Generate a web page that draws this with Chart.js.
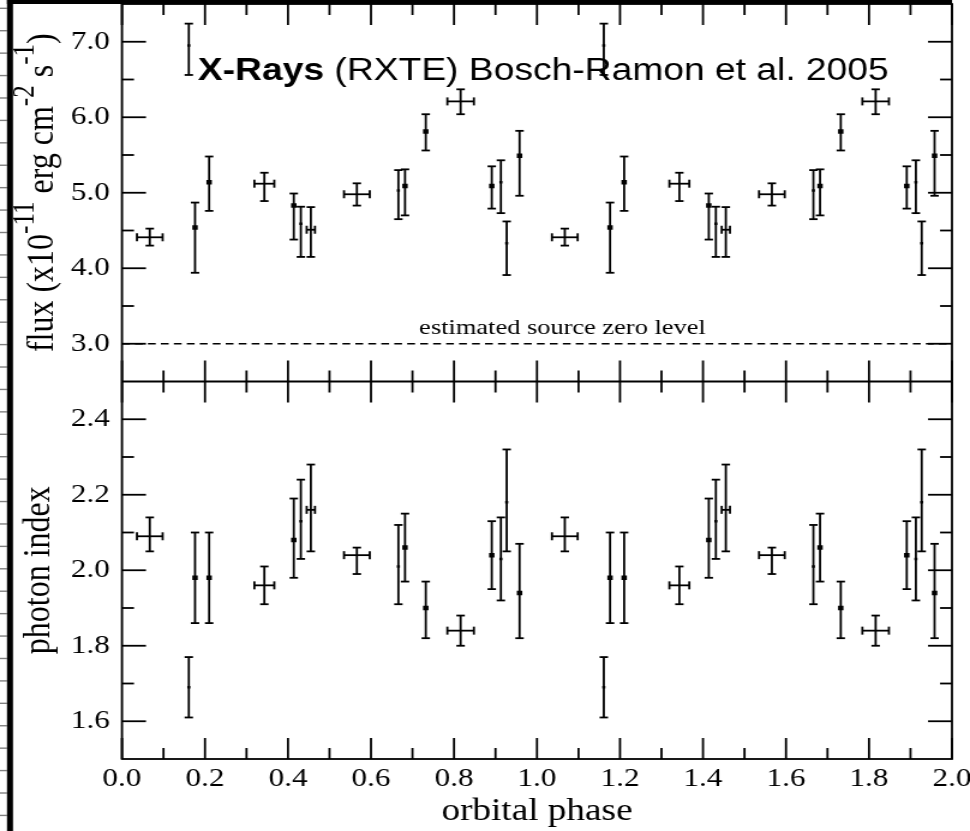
<!DOCTYPE html>
<html>
<head>
<meta charset="utf-8">
<title>RXTE orbital phase</title>
<script src="https://cdn.jsdelivr.net/npm/chart.js@4"></script>
<style>
  html, body { margin: 0; padding: 0; background: #fff; }
  #phaseChart { display: block; }
</style>
</head>
<body>
<!-- the plot is drawn narrow and widened by CSS, like the printed figure -->
<canvas id="phaseChart" width="808" height="831" style="width:970px;height:831px"></canvas>
<script>
const SERIF = "'Liberation Serif', 'Times New Roman', serif";
const SANS = "'Liberation Sans', Arial, sans-serif";

// phase-binned averages (horizontal bar = half bin width)
const binPhase      = [0.067, 0.343, 0.455, 0.566, 0.816];
const binHalfWidth  = [0.031, 0.024, 0.010, 0.031, 0.032];
const binFlux       = [4.41, 5.12, 4.51, 4.98, 6.21];
const binFluxErr    = [[4.30, 4.525], [4.89, 5.265], [4.15, 4.81], [4.83, 5.125], [6.04, 6.37]];
const binIndex      = [2.09, 1.96, 2.16, 2.04, 1.84];
const binIndexErr   = [[2.05, 2.14], [1.91, 2.01], [2.05, 2.28], [1.99, 2.06], [1.80, 1.88]];

// pointed observations (filled squares)
const obsPhase      = [0.176, 0.210, 0.414, 0.682, 0.732, 0.891, 0.958];
const obsFlux       = [4.54, 5.14, 4.83, 5.09, 5.81, 5.09, 5.49];
const obsFluxErr    = [[3.94, 4.87], [4.76, 5.48], [4.38, 4.99], [4.70, 5.31], [5.56, 6.04], [4.79, 5.35], [4.96, 5.82]];
const obsIndex      = [1.98, 1.98, 2.08, 2.06, 1.90, 2.04, 1.94];
const obsIndexErr   = [[1.86, 2.10], [1.86, 2.10], [1.98, 2.19], [1.97, 2.15], [1.82, 1.97], [1.95, 2.13], [1.82, 2.07]];

// short pointings (small dots)
const shortPhase    = [0.161, 0.431, 0.666, 0.913, 0.927];
const shortFlux     = [6.95, 4.59, 5.03, 5.14, 4.33];
const shortFluxErr  = [[6.56, 7.24], [4.15, 4.815], [4.65, 5.30], [4.73, 5.43], [3.91, 4.62]];
const shortIndex    = [1.69, 2.13, 2.01, 2.03, 2.18];
const shortIndexErr = [[1.61, 1.77], [2.03, 2.24], [1.91, 2.12], [1.92, 2.14], [2.05, 2.32]];

const cycles = [0, 1];          // every orbit is plotted twice
const zeroLevel = 3.0;

const phaseTicks = [0, 0.2, 0.4, 0.6, 0.8, 1.0, 1.2, 1.4, 1.6, 1.8, 2.0];
const phaseMinor = [0.1, 0.3, 0.5, 0.7, 0.9, 1.1, 1.3, 1.5, 1.7, 1.9];
const fluxTicks  = [3, 4, 5, 6, 7];
const fluxMinor  = [3.5, 4.5, 5.5, 6.5];
const indexTicks = [1.6, 1.8, 2.0, 2.2, 2.4];
const indexMinor = [1.7, 1.9, 2.1, 2.3];

const repeat = arr => cycles.flatMap(() => arr);
const fold = ph => cycles.flatMap(c => ph.map(p => p + c));

function series(label, axis, ph, vals, err, halfW, radius) {
  const xs = fold(ph), ys = repeat(vals);
  return {
    type: 'scatter',
    label,
    yAxisID: axis,
    data: xs.map((x, i) => ({ x, y: ys[i] })),
    errY: repeat(err),
    errX: halfW ? repeat(halfW) : null,
    pointStyle: 'rect',
    pointRadius: radius,
    pointHoverRadius: radius,
    backgroundColor: '#000',
    borderWidth: 0
  };
}

function line(ctx, x0, y0, x1, y1) {
  ctx.beginPath();
  ctx.moveTo(x0, y0);
  ctx.lineTo(x1, y1);
  ctx.stroke();
}

const framePlugin = {
  id: 'frame',
  beforeDraw(chart) {
    const ctx = chart.ctx;
    ctx.save();
    ctx.fillStyle = '#fff';
    ctx.fillRect(0, 0, chart.width, chart.height);
    // edge of the neighbouring panel
    ctx.strokeStyle = '#808080';
    ctx.lineWidth = 1.4;
    for (let y = 8.3; y < chart.height; y += 22.42) line(ctx, 0, y, 5.8, y);
    ctx.fillStyle = '#000';
    ctx.fillRect(5.8, 0, 5, chart.height);
    ctx.fillRect(5.8, 0, chart.chartArea.right - 5.8, 4);
    ctx.restore();
  },
  afterDatasetsDraw(chart) {
    const ctx = chart.ctx;
    const xs = chart.scales.x;
    ctx.save();
    ctx.strokeStyle = '#000';
    ctx.lineWidth = 1.8;
    for (const ds of chart.data.datasets) {
      if (!ds.errY) continue;
      const ys = chart.scales[ds.yAxisID];
      ds.data.forEach((p, i) => {
        const px = xs.getPixelForValue(p.x);
        const y0 = ys.getPixelForValue(ds.errY[i][0]);
        const y1 = ys.getPixelForValue(ds.errY[i][1]);
        line(ctx, px, y0, px, y1);
        line(ctx, px - 3.5, y0, px + 3.5, y0);
        line(ctx, px - 3.5, y1, px + 3.5, y1);
        if (ds.errX) {
          const py = ys.getPixelForValue(p.y);
          const x0 = xs.getPixelForValue(p.x - ds.errX[i]);
          const x1 = xs.getPixelForValue(p.x + ds.errX[i]);
          line(ctx, x0, py, x1, py);
          line(ctx, x0, py - 4, x0, py + 4);
          line(ctx, x1, py - 4, x1, py + 4);
        }
      });
    }
    ctx.restore();
  },
  afterDraw(chart) {
    const ctx = chart.ctx;
    const { left, right, top, bottom } = chart.chartArea;
    const xs = chart.scales.x, yF = chart.scales.yFlux, yI = chart.scales.yIdx;
    ctx.save();
    ctx.strokeStyle = '#000';
    ctx.fillStyle = '#000';
    ctx.lineWidth = 1.8;
    ctx.strokeRect(left, top, right - left, bottom - top);
    line(ctx, left, yF.bottom, right, yF.bottom);

    // inward ticks on every side of both panels
    const panels = [[yF, fluxTicks, fluxMinor], [yI, indexTicks, indexMinor]];
    for (const [s, major, minor] of panels) {
      for (const [vals, len] of [[phaseTicks, 21], [phaseMinor, 11]]) {
        for (const v of vals) {
          const px = xs.getPixelForValue(v);
          line(ctx, px, s.top, px, s.top + len);
          line(ctx, px, s.bottom, px, s.bottom - len);
        }
      }
      for (const [vals, len] of [[major, 20], [minor, 10]]) {
        for (const v of vals) {
          const py = s.getPixelForValue(v);
          line(ctx, left, py, left + len, py);
          line(ctx, right, py, right - len, py);
        }
      }
    }

    // flux axis title with superscripts
    const mainFont = `32px ${SERIF}`, supFont = `25px ${SERIF}`;
    const parts = [['flux (x10', 0], ['-11', 1], [' erg cm', 0], ['-2', 1], [' s', 0], ['-1', 1], [')', 0]];
    let total = 0;
    for (const [t, sup] of parts) { ctx.font = sup ? supFont : mainFont; total += ctx.measureText(t).width; }
    ctx.save();
    ctx.translate(44, (yF.top + yF.bottom) / 2);
    ctx.rotate(-Math.PI / 2);
    ctx.textAlign = 'left';
    ctx.textBaseline = 'alphabetic';
    let tx = -total / 2;
    for (const [t, sup] of parts) {
      ctx.font = sup ? supFont : mainFont;
      ctx.fillText(t, tx, sup ? -16 : 0);
      tx += ctx.measureText(t).width;
    }
    ctx.restore();

    // zero level caption
    ctx.font = `22px ${SERIF}`;
    ctx.textAlign = 'left';
    ctx.textBaseline = 'alphabetic';
    ctx.fillText('estimated source zero level', xs.getPixelForValue(0.716), yF.getPixelForValue(3.13));

    // panel caption
    const cx = xs.getPixelForValue(0.183), cy = yF.getPixelForValue(6.49);
    ctx.font = `bold 31px ${SANS}`;
    ctx.fillText('X-Rays', cx, cy);
    const w = ctx.measureText('X-Rays').width;
    ctx.font = `31px ${SANS}`;
    ctx.fillText(' (RXTE) Bosch-Ramon et al. 2005', cx + w, cy);
    ctx.restore();
  }
};

const tickFont = { family: SERIF, size: 26 };
const yFit = s => { s.width = 101.6; s.paddingTop = 0; s.paddingBottom = 0; };

new Chart(document.getElementById('phaseChart'), {
  type: 'scatter',
  data: {
    datasets: [
      series('bins flux', 'yFlux', binPhase, binFlux, binFluxErr, binHalfWidth, 0),
      series('pointed flux', 'yFlux', obsPhase, obsFlux, obsFluxErr, null, 3.2),
      series('short flux', 'yFlux', shortPhase, shortFlux, shortFluxErr, null, 1.8),
      series('bins index', 'yIdx', binPhase, binIndex, binIndexErr, binHalfWidth, 0),
      series('pointed index', 'yIdx', obsPhase, obsIndex, obsIndexErr, null, 3.2),
      series('short index', 'yIdx', shortPhase, shortIndex, shortIndexErr, null, 1.8),
      {
        type: 'line',
        label: 'zero level',
        yAxisID: 'yFlux',
        data: [{ x: 0, y: zeroLevel }, { x: 2, y: zeroLevel }],
        borderColor: '#000',
        borderWidth: 1.6,
        borderDash: [6.5, 4.3],
        pointRadius: 0,
        fill: false
      }
    ]
  },
  options: {
    responsive: false,
    animation: false,
    events: [],
    layout: { autoPadding: false, padding: { left: 0, top: 4, right: 15, bottom: 0 } },
    plugins: { legend: { display: false }, tooltip: { enabled: false } },
    scales: {
      x: {
        type: 'linear',
        position: 'bottom',
        min: 0,
        max: 2,
        grid: { display: false, drawTicks: false },
        border: { display: false },
        afterBuildTicks: s => { s.ticks = phaseTicks.map(value => ({ value })); },
        ticks: { color: '#000', font: tickFont, padding: 5, maxRotation: 0, autoSkip: false, callback: v => v.toFixed(1) },
        title: { display: true, text: 'orbital phase', color: '#000', font: { family: SERIF, size: 31, lineHeight: 1 }, padding: { top: 0, bottom: 4 } },
        afterFit: s => { s.height = 72; s.paddingLeft = 0; s.paddingRight = 0; }
      },
      yIdx: {
        type: 'linear',
        position: 'left',
        stack: 'panels',
        stackWeight: 1,
        min: 1.5,
        max: 2.5,
        grid: { display: false, drawTicks: false },
        border: { display: false },
        afterBuildTicks: s => { s.ticks = indexTicks.map(value => ({ value })); },
        ticks: { color: '#000', font: tickFont, padding: 10, callback: v => v.toFixed(1) },
        title: { display: true, text: 'photon index', color: '#000', font: { family: SERIF, size: 32, lineHeight: 1 }, padding: { top: 17, bottom: 0 } },
        afterFit: yFit
      },
      yFlux: {
        type: 'linear',
        position: 'left',
        stack: 'panels',
        stackWeight: 1,
        min: 2.5,
        max: 7.5,
        grid: { display: false, drawTicks: false },
        border: { display: false },
        afterBuildTicks: s => { s.ticks = fluxTicks.map(value => ({ value })); },
        ticks: { color: '#000', font: tickFont, padding: 10, callback: v => v.toFixed(1) },
        afterFit: yFit
      }
    }
  },
  plugins: [framePlugin]
});
</script>
</body>
</html>
